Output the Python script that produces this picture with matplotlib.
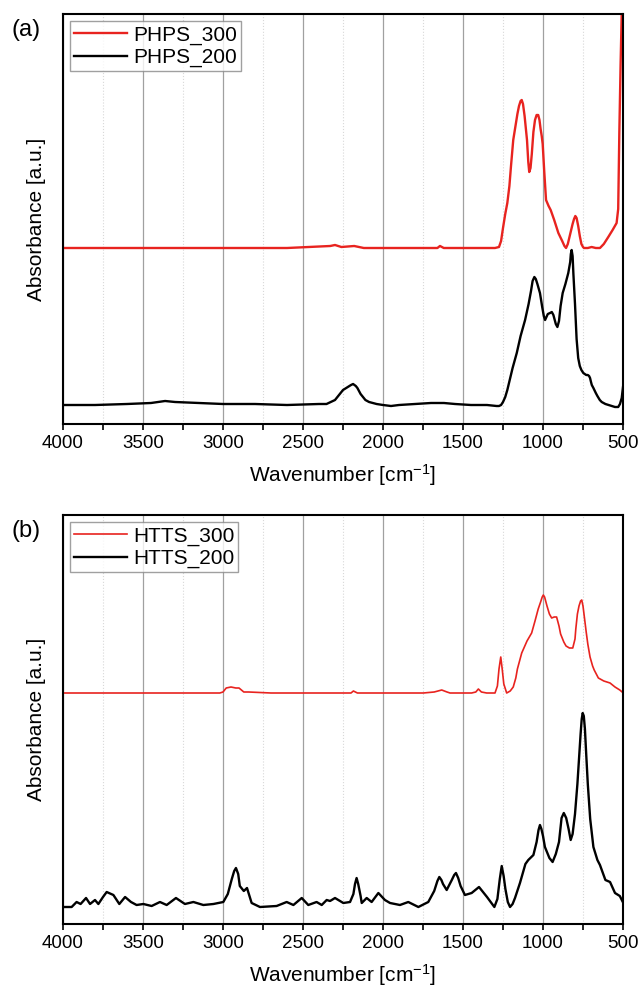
import numpy as np
import matplotlib
matplotlib.use("Agg")
import matplotlib.pyplot as plt
from matplotlib.ticker import MultipleLocator

plt.rcParams['font.family'] = ['Liberation Sans', 'DejaVu Sans']
plt.rcParams['lines.solid_joinstyle'] = 'round'

# ---- panel (a) data: wavenumber [cm-1] / absorbance [a.u., offset] ----
wn_phps300 = [4000, 3700, 3400, 3000, 2600, 2330, 2300, 2260, 2180, 2150, 2120, 2000,
              1800, 1660, 1644, 1620, 1500, 1300, 1275, 1262, 1250, 1236, 1223, 1210,
              1200, 1186, 1170, 1160, 1150, 1140, 1133, 1125, 1115, 1100, 1092, 1086,
              1078, 1070, 1060, 1050, 1040, 1030, 1022, 1015, 1008, 1002, 992, 981, 965,
              952, 930, 904, 880, 866, 856, 845, 830, 815, 806, 798, 790, 780, 770, 760,
              750, 744, 720, 696, 670, 644, 620, 592, 565, 540, 530, 523, 515, 508, 500]
ab_phps300 = [176, 176, 176, 176, 176, 178, 179, 177, 178, 177, 176, 176,
              176, 176, 178, 176, 176, 176, 177, 183, 196, 210, 221, 238,
              258, 284, 300, 310, 318, 323, 324, 320, 308, 284, 262, 252,
              256, 270, 292, 304, 309, 309, 304, 295, 288, 280, 252, 224, 218,
              214, 204, 191, 183, 178, 176, 180, 190, 200, 205, 208, 206, 198, 188, 180,
              177, 176, 176, 177, 176, 176, 180, 187, 194, 201, 215, 291, 360, 411, 430]

wn_phps200 = [4000, 3800, 3600, 3450, 3362, 3300, 3150, 3000, 2800, 2600, 2400, 2353,
              2300, 2270, 2250, 2220, 2200, 2187, 2170, 2160, 2140, 2110, 2087, 2040,
              2000, 1950, 1900, 1800, 1700, 1619, 1550, 1450, 1350, 1290, 1275, 1262,
              1250, 1236, 1223, 1205, 1190, 1164, 1140, 1112, 1090, 1075, 1065, 1054,
              1045, 1035, 1019, 1005, 995, 987, 970, 956, 945, 935, 920, 910, 900, 890,
              877, 860, 842, 830, 826, 821, 815, 810, 800, 790, 780, 770, 760, 748, 730,
              720, 712, 706, 700, 695, 685, 670, 660, 645, 633, 610, 590, 570, 550, 530,
              519, 508, 500]
ab_phps200 = [19, 19, 20, 21, 23, 22, 21, 20, 20, 19, 20, 20,
              24, 30, 34, 37, 39, 40, 38, 36, 30, 24, 22, 20,
              19, 18, 19, 20, 21, 21, 20, 19, 19, 18, 18, 19,
              22, 27, 34, 46, 56, 71, 88, 104, 120, 133, 143, 147,
              145, 140, 131, 117, 108, 104, 110, 111, 112, 109, 100, 97, 103, 118,
              131, 140, 151, 162, 170, 174, 168, 150, 120, 85, 66, 58, 54, 51, 49,
              49, 48, 46, 42, 39, 36, 31, 28, 24, 22, 20, 19, 18, 17, 17,
              20, 26, 37]

# ---- panel (b) data ----
wn_htts300 = [4000, 3700, 3400, 3100, 3020, 3000, 2980, 2950, 2920, 2900, 2870, 2840,
              2700, 2400, 2200, 2185, 2160, 2019, 1850, 1748, 1680, 1633, 1600, 1581,
              1446, 1420, 1404, 1385, 1352, 1300, 1285, 1275, 1264, 1255, 1245, 1227,
              1205, 1186, 1170, 1160, 1133, 1100, 1071, 1050, 1030, 1015, 1005, 998,
              990, 975, 960, 946, 930, 915, 900, 890, 870, 856, 835, 814, 800, 795, 785,
              775, 765, 758, 750, 740, 730, 720, 706, 690, 680, 654, 620, 581, 550, 520,
              498]
ab_htts300 = [231, 231, 231, 231, 231, 232, 236, 237, 236, 236, 232, 232,
              231, 231, 231, 233, 231, 231, 231, 231, 232, 234, 232, 231,
              231, 232, 235, 232, 231, 231, 238, 255, 267, 255, 240, 231,
              233, 237, 246, 255, 271, 283, 291, 303, 315, 322, 327, 329,
              327, 318, 310, 306, 307, 307, 298, 290, 282, 278, 276, 276, 285, 295, 310,
              318, 323, 324, 318, 305, 292, 280, 267, 258, 254, 246, 243, 241, 237, 234,
              231]

wn_htts200 = [4000, 3946, 3915, 3890, 3856, 3831, 3800, 3779, 3750, 3727, 3685, 3648,
              3612, 3575, 3540, 3498, 3446, 3394, 3352, 3294, 3238, 3185, 3123, 3060,
              2998, 2970, 2945, 2930, 2919, 2905, 2895, 2870, 2850, 2821, 2769, 2665,
              2602, 2560, 2508, 2467, 2415, 2383, 2352, 2331, 2300, 2248, 2206, 2185,
              2175, 2165, 2155, 2140, 2133, 2102, 2071, 2029, 1988, 1956, 1894, 1842,
              1779, 1717, 1680, 1660, 1648, 1635, 1625, 1602, 1570, 1555, 1544, 1530,
              1515, 1488, 1446, 1400, 1350, 1304, 1285, 1270, 1258, 1246, 1235, 1220,
              1206, 1190, 1175, 1144, 1110, 1092, 1060, 1040, 1028, 1019, 1010, 1000,
              988, 960, 940, 920, 900, 884, 870, 855, 840, 827, 815, 800, 785, 775, 765,
              758, 752, 745, 738, 730, 720, 705, 685, 660, 644, 610, 581, 550, 520, 498]
ab_htts200 = [17, 17, 22, 20, 26, 20, 24, 20, 27, 32, 29, 20,
              27, 22, 19, 20, 18, 22, 19, 26, 20, 22, 19, 20,
              22, 30, 45, 53, 56, 50, 38, 33, 36, 21, 17, 18,
              22, 19, 26, 19, 22, 19, 24, 23, 26, 21, 22, 30,
              40, 46, 40, 28, 21, 26, 22, 31, 24, 21, 19, 22,
              17, 22, 33, 43, 47, 44, 40, 34, 44, 49, 51, 46,
              38, 29, 31, 37, 27, 17, 25, 45, 58, 48, 35, 22,
              17, 20, 26, 41, 60, 64, 69, 82, 94, 99, 95, 88,
              77, 66, 62, 70, 82, 106, 111, 106, 95, 84, 90, 110, 140, 165, 190,
              205, 211, 208, 195, 170, 140, 105, 77, 64, 59, 44, 42, 31, 28, 21]

panels = [
    ("(a)", wn_phps300, ab_phps300, "PHPS_300", wn_phps200, ab_phps200, "PHPS_200", 1.7),
    ("(b)", wn_htts300, ab_htts300, "HTTS_300", wn_htts200, ab_htts200, "HTTS_200", 1.2),
]

fig = plt.figure(figsize=(6.4, 9.93), dpi=100)
boxes = [[63/640, 1-424/993, 560/640, 410/993],
         [63/640, 1-924/993, 560/640, 409/993]]

for box, (tag, x1, y1, l1, x2, y2, l2, lw1) in zip(boxes, panels):
    ax = fig.add_axes(box)
    ax.plot(x1, y1, color='#e8231f', lw=lw1, label=l1)
    ax.plot(x2, y2, color='black', lw=1.7, label=l2)
    ax.set_xlim(4000, 500)
    ax.set_ylim(0, 410 if tag == "(a)" else 409)
    ax.xaxis.set_major_locator(MultipleLocator(500))
    ax.xaxis.set_minor_locator(MultipleLocator(250))
    ax.grid(which='major', axis='x', color='#a0a0a0', lw=0.9)
    ax.grid(which='minor', axis='x', color='#d8d8d8', lw=0.8, ls=':')
    ax.set_yticks([])
    ax.tick_params(axis='x', which='both', direction='out', length=4, width=1.2,
                   labelsize=13.5, pad=4, top=False)
    for s in ax.spines.values():
        s.set_linewidth(1.5)
    ax.set_xlabel("Wavenumber [cm$\\mathregular{^{-1}}$]", fontsize=15, labelpad=7)
    ax.set_ylabel("Absorbance [a.u.]", fontsize=15, labelpad=12)
    leg = ax.legend(loc='upper left', fontsize=15, frameon=True, fancybox=False,
                    borderpad=0.2, handlelength=2.5, handletextpad=0.3,
                    labelspacing=0.15, borderaxespad=0.35)
    leg.get_frame().set_edgecolor('#888888')
    leg.get_frame().set_linewidth(1.0)
    ax.text(-0.066, 0.96, tag, transform=ax.transAxes, fontsize=17,
            ha='center', va='center')

fig.savefig("out.png", dpi=100)
